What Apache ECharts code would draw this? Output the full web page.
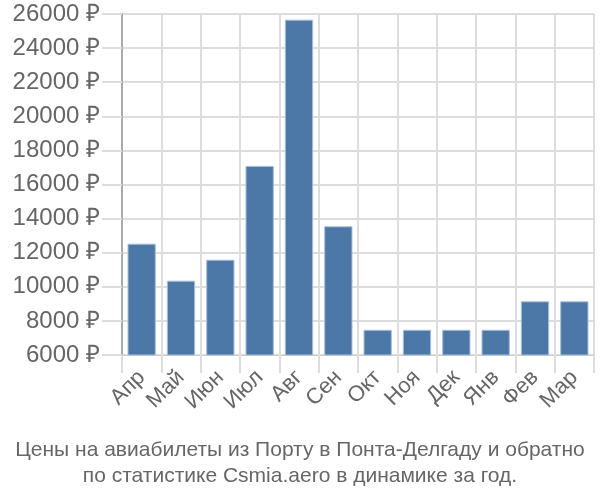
<!DOCTYPE html>
<html><head><meta charset="utf-8">
<script src="https://cdn.jsdelivr.net/npm/echarts@6/dist/echarts.min.js"></script>
<style>html,body{margin:0;padding:0;background:#fff}#c{width:600px;height:500px}</style>
</head><body><div id="c"></div>
<script>
const categories = ['Апр','Май','Июн','Июл','Авг','Сен','Окт','Ноя','Дек','Янв','Фев','Мар'];
const prices = [12530, 10360, 11590, 17090, 25670, 13550, 7480, 7480, 7480, 7480, 9150, 9150];
const yMin = 6000, yMax = 26000, yStep = 2000;
const titleLines = ['Цены на авиабилеты из Порту в Понта-Делгаду и обратно', 'по статистике Csmia.aero в динамике за год.'];

const chart = echarts.init(document.getElementById('c'), null, {renderer:'canvas'});
chart.setOption({
  animation: false,
  title: {
    text: titleLines.join('\n'),
    left: 'center', top: 432,
    textStyle: {fontFamily: 'Liberation Sans', fontSize: 21, fontWeight: 'normal', color: '#666', lineHeight: 26}
  },
  grid: {left: 122, right: 6, top: 14, bottom: 145, containLabel: false},
  xAxis: {
    type: 'category', data: categories,
    axisLine: {show: true, lineStyle: {color: '#ccc'}},
    axisTick: {show: true, length: 18, alignWithLabel: false, lineStyle: {color: '#ddd', width: 2}},
    splitLine: {show: true, lineStyle: {color: '#ddd', width: 2}},
    axisLabel: {rotate: 45, fontFamily: 'Liberation Sans', fontSize: 22, color: '#666', margin: 19, interval: 0}
  },
  yAxis: {
    type: 'value', min: yMin, max: yMax, interval: yStep,
    axisLine: {show: true, lineStyle: {color: '#aaa', width: 2}},
    axisTick: {show: true, length: 20, lineStyle: {color: '#ddd', width: 2}},
    splitLine: {show: true, lineStyle: {color: '#ddd', width: 2}},
    axisLabel: {fontFamily: 'Liberation Sans', fontSize: 24, color: '#666', margin: 22,
      formatter: v => v + ' ₽'}
  },
  series: [{
    type: 'bar', data: prices, barWidth: '72%',
    itemStyle: {color: '#4c78a8', borderColor: '#a9bfd8', borderWidth: 1}
  }]
});
</script></body></html>
